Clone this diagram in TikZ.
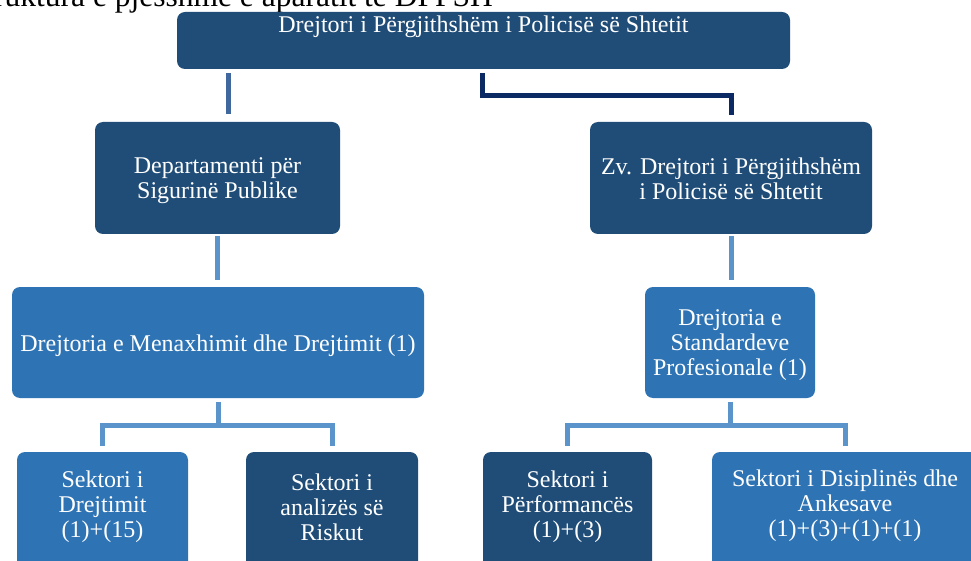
\documentclass[tikz,border=0pt]{standalone}
\usepackage{fontspec}
\setmainfont{Liberation Serif}
\definecolor{darkbox}{HTML}{1F4D78}
\definecolor{midbox}{HTML}{2E74B5}
\definecolor{connA}{HTML}{41689E}
\definecolor{connB}{HTML}{0B2A63}
\definecolor{connC}{HTML}{5B93CB}
\begin{document}
\begin{tikzpicture}[x=1pt,y=-1pt,
  box/.style={rounded corners=8pt, inner sep=0pt, draw=none},
  dbox/.style={box, fill=darkbox},
  mbox/.style={box, fill=midbox},
  lbl/.style={text=white, font=\fontsize{24}{25}\selectfont, align=center, inner sep=0pt, anchor=north},
  conA/.style={draw=connA, line width=5pt},
  conB/.style={draw=connB, line width=5pt, line join=miter},
  conC/.style={draw=connC, line width=5pt, line join=miter}
]
\useasboundingbox (0,0) rectangle (971,561);
\fill[white] (0,0) rectangle (971,561);

% partially visible caption
\node[font=\fontsize{31.5}{33}\selectfont, anchor=base east, inner sep=0pt] (cap) at (493,7) {Struktura e pjesshme e aparatit të DPPSH};

% boxes
\node[dbox, minimum width=613pt, minimum height=57pt] (top) at (483.5,40.5) {};
\node[dbox, minimum width=245pt, minimum height=112pt] (dep) at (217.5,178) {};
\node[dbox, minimum width=282pt, minimum height=112pt] (zv) at (731,178) {};
\node[mbox, minimum width=412pt, minimum height=111pt] (mena) at (218,342.5) {};
\node[mbox, minimum width=170pt, minimum height=111pt] (std) at (730,342.5) {};
\node[mbox, minimum width=171pt, minimum height=128pt] (b1) at (102.5,516) {};
\node[dbox, minimum width=172pt, minimum height=128pt] (b2) at (332,516) {};
\node[dbox, minimum width=169pt, minimum height=128pt] (b3) at (567.5,516) {};
\node[mbox, minimum width=266pt, minimum height=128pt] (b4) at (845,516) {};

% texts
\node[lbl, anchor=base] (topt) at (483.5,33) {Drejtori i Përgjithshëm i Policisë së Shtetit};
\node[lbl] (dept) at (217.5,155.5) {\strut Departamenti për\\Sigurinë Publike};
\node[lbl] (zvt) at (731,156.5) {\strut Zv. Drejtori i Përgjithshëm\\i Policisë së Shtetit};
\node[lbl] (menat) at (218,333.5) {\strut Drejtoria e Menaxhimit dhe Drejtimit (1)};
\node[lbl] (stdt) at (730,308) {\strut Drejtoria e\\Standardeve\\Profesionale (1)};
\node[lbl] (b1t) at (102.5,470) {\strut Sektori i\\Drejtimit\\(1)+(15)};
\node[lbl] (b2t) at (332,472.5) {\strut Sektori i\\analizës së\\Riskut};
\node[lbl] (b3t) at (567.5,470) {\strut Sektori i\\Përformancës\\(1)+(3)};
\node[lbl] (b4t) at (845,469) {\strut Sektori i Disiplinës dhe\\Ankesave\\(1)+(3)+(1)+(1)};

% helper coordinates
\coordinate (xa) at (228,0);
\coordinate (xb) at (482.5,0);
\coordinate (ya) at (0,96);
\coordinate (yb) at (0,425);

% connectors
\draw[conA, shorten <=4pt, shorten >=8pt] (top.south -| xa) -- (dep.north -| xa);
\draw[conB, shorten <=4pt, shorten >=7pt] (top.south -| xb) -- (xb |- ya) -- (ya -| zv.north) -- (zv.north);
\draw[conC, shorten <=2pt, shorten >=7pt] (dep.south) -- (dep.south |- mena.north);
\draw[conC, shorten <=2pt, shorten >=7pt] (zv.south) -- (zv.south |- std.north);
\draw[conC, shorten <=4pt] (mena.south) -- (mena.south |- yb);
\draw[conC, shorten <=6pt, shorten >=6pt] (b1.north) -- (b1.north |- yb) -- (b2.north |- yb) -- (b2.north);
\draw[conC, shorten <=4pt] (std.south) -- (std.south |- yb);
\draw[conC, shorten <=6pt, shorten >=6pt] (b3.north) -- (b3.north |- yb) -- (b4.north |- yb) -- (b4.north);
\end{tikzpicture}
\end{document}
